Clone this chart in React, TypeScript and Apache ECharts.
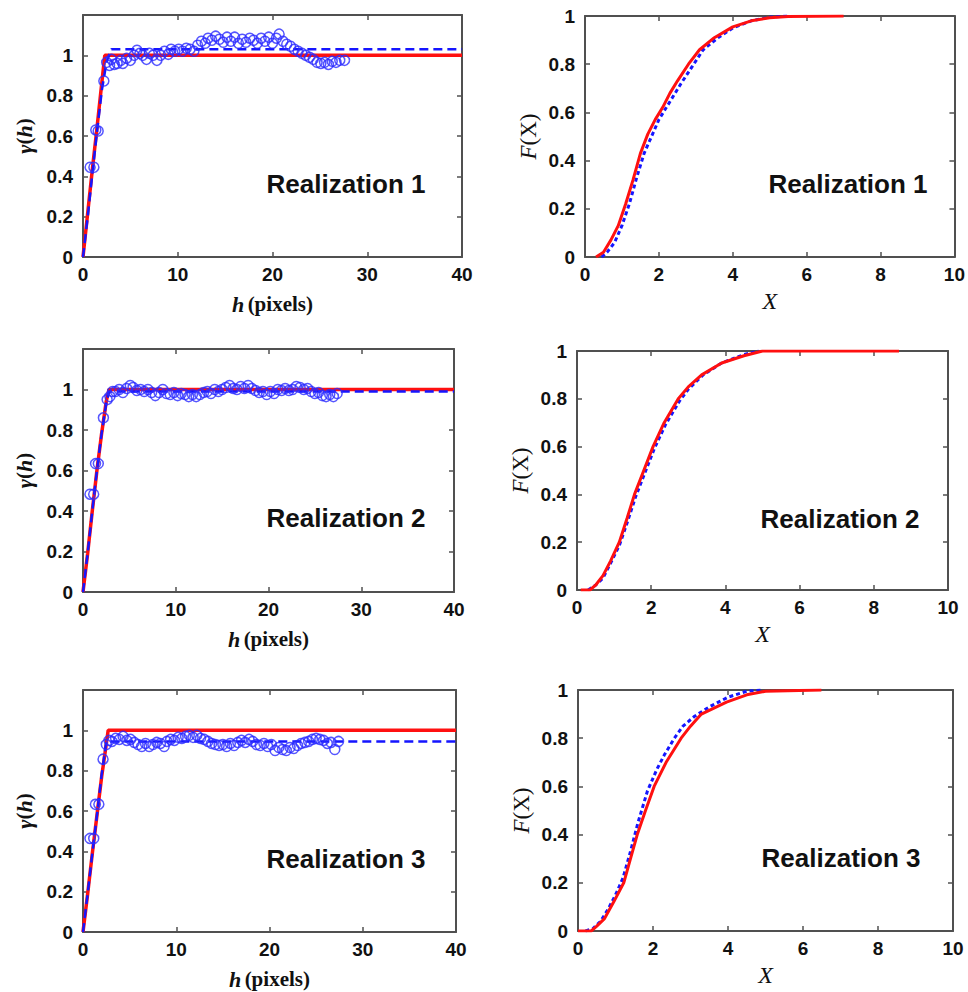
import React, { useEffect, useRef } from 'react';
import * as echarts from 'echarts';

// ---------- Variogram panels (left column) ----------
const v1H = [0.75, 1.15, 1.35, 1.6, 2.2, 2.5, 2.8, 3.0, 3.3, 3.6, 4.0, 4.2, 4.6, 5.0, 5.4, 5.7, 6.0, 6.3, 6.7, 7.0, 7.4, 7.8, 8.2, 8.6, 9.0, 9.3, 9.7, 10.1, 10.5, 10.9, 11.3, 11.7, 12.1, 12.5, 12.9, 13.2, 13.6, 14.0, 14.4, 14.8, 15.2, 15.6, 16.0, 16.4, 16.8, 17.2, 17.6, 18.0, 18.4, 18.8, 19.2, 19.6, 20.0, 20.4, 20.7, 21.1, 21.5, 21.9, 22.3, 22.7, 23.1, 23.5, 23.9, 24.3, 24.7, 25.1, 25.5, 25.9, 26.3, 26.7, 27.1, 27.6];
const v1G = [0.445, 0.445, 0.63, 0.625, 0.873, 0.965, 0.95, 0.98, 0.955, 0.96, 0.975, 0.96, 0.985, 0.975, 1.0, 1.025, 1.01, 1.0, 0.98, 1.01, 1.0, 0.975, 1.0, 1.02, 1.005, 1.03, 1.02, 1.03, 1.02, 1.035, 1.03, 1.02, 1.05, 1.07, 1.06, 1.085, 1.075, 1.095, 1.08, 1.065, 1.09, 1.07, 1.09, 1.06, 1.08, 1.065, 1.085, 1.075, 1.06, 1.085, 1.07, 1.09, 1.06, 1.085, 1.105, 1.07, 1.055, 1.045, 1.03, 1.02, 1.01, 1.0, 0.99, 0.98, 0.965, 0.96, 0.965, 0.955, 0.97, 0.965, 0.975, 0.975];
const m1RedH = [0, 0.5, 1, 1.5, 2, 2.3, 40];
const m1RedG = [0, 0.22, 0.44, 0.65, 0.87, 1.0, 1.0];
const m1BlueH = [0, 0.5, 1, 1.5, 2, 2.5, 3.0, 40];
const m1BlueG = [0, 0.2, 0.42, 0.63, 0.83, 0.97, 1.03, 1.03];

const v2H = [0.75, 1.15, 1.35, 1.65, 2.2, 2.6, 2.9, 3.2, 3.5, 3.9, 4.3, 4.7, 5.1, 5.4, 5.8, 6.2, 6.6, 7.0, 7.4, 7.8, 8.2, 8.6, 9.0, 9.4, 9.8, 10.2, 10.6, 11.0, 11.4, 11.8, 12.2, 12.6, 13.0, 13.4, 13.8, 14.2, 14.6, 15.0, 15.4, 15.8, 16.2, 16.6, 17.0, 17.4, 17.8, 18.2, 18.6, 19.0, 19.4, 19.8, 20.2, 20.6, 21.0, 21.4, 21.8, 22.2, 22.6, 23.0, 23.4, 23.8, 24.2, 24.6, 25.0, 25.4, 25.8, 26.2, 26.6, 27.0, 27.4];
const v2G = [0.483, 0.483, 0.634, 0.634, 0.86, 0.95, 0.965, 0.99, 0.99, 1.0, 0.985, 1.005, 1.02, 1.01, 0.995, 1.0, 0.99, 1.0, 0.985, 0.97, 0.985, 1.0, 0.98, 0.975, 0.985, 0.97, 0.98, 0.975, 0.965, 0.975, 0.965, 0.975, 0.985, 0.99, 0.98, 1.0, 0.99, 1.0, 1.01, 1.02, 1.005, 1.0, 1.015, 1.005, 1.02, 1.005, 0.995, 0.985, 0.99, 0.975, 0.99, 0.98, 1.0, 0.995, 1.005, 0.995, 1.0, 1.015, 1.01, 1.0, 1.005, 0.99, 0.98, 0.985, 0.97, 0.965, 0.975, 0.965, 0.98];
const m2RedH = [0, 0.5, 1, 1.5, 2, 2.5, 2.8, 40];
const m2RedG = [0, 0.19, 0.4, 0.6, 0.78, 0.94, 1.0, 1.0];
const m2BlueH = [0, 0.5, 1, 1.5, 2, 2.5, 2.8, 40];
const m2BlueG = [0, 0.19, 0.4, 0.6, 0.78, 0.93, 0.99, 0.99];

const v3H = [0.75, 1.15, 1.33, 1.7, 2.15, 2.5, 2.8, 3.1, 3.5, 3.9, 4.3, 4.7, 5.1, 5.5, 5.9, 6.3, 6.7, 7.1, 7.5, 7.9, 8.3, 8.7, 9.0, 9.4, 9.8, 10.2, 10.6, 11.0, 11.4, 11.8, 12.2, 12.6, 13.0, 13.4, 13.8, 14.2, 14.6, 15.0, 15.4, 15.8, 16.2, 16.6, 17.0, 17.4, 17.8, 18.2, 18.6, 19.0, 19.4, 19.8, 20.2, 20.6, 21.0, 21.4, 21.8, 22.2, 22.6, 23.0, 23.4, 23.8, 24.2, 24.6, 25.0, 25.4, 25.8, 26.2, 26.6, 27.0, 27.4];
const v3G = [0.464, 0.464, 0.633, 0.633, 0.857, 0.93, 0.95, 0.945, 0.96, 0.955, 0.97, 0.95, 0.955, 0.94, 0.93, 0.92, 0.935, 0.92, 0.93, 0.94, 0.935, 0.92, 0.945, 0.955, 0.95, 0.965, 0.96, 0.97, 0.975, 0.965, 0.975, 0.96, 0.955, 0.945, 0.935, 0.93, 0.925, 0.93, 0.92, 0.935, 0.925, 0.94, 0.95, 0.94, 0.955, 0.945, 0.93, 0.925, 0.935, 0.92, 0.93, 0.9, 0.915, 0.905, 0.9, 0.915, 0.91, 0.925, 0.935, 0.94, 0.945, 0.955, 0.96, 0.955, 0.95, 0.935, 0.94, 0.905, 0.945];
const m3RedH = [0, 0.5, 1, 1.5, 2, 2.4, 2.7, 40];
const m3RedG = [0, 0.19, 0.39, 0.58, 0.77, 0.9, 1.0, 1.0];
const m3BlueH = [0, 0.5, 1, 1.5, 2, 2.5, 40];
const m3BlueG = [0, 0.19, 0.39, 0.58, 0.78, 0.945, 0.945];

// ---------- CDF panels (right column) ----------
const c1RedX = [0.3, 0.5, 0.7, 0.9, 1.1, 1.3, 1.5, 1.7, 1.9, 2.1, 2.3, 2.5, 2.8, 3.1, 3.5, 4.0, 4.5, 5.0, 5.5, 7.0];
const c1RedF = [0, 0.02, 0.07, 0.13, 0.22, 0.32, 0.43, 0.51, 0.57, 0.62, 0.68, 0.73, 0.8, 0.86, 0.91, 0.955, 0.98, 0.993, 0.998, 1.0];
const c1BlueX = [0.45, 0.6, 0.8, 1.0, 1.2, 1.4, 1.6, 1.8, 2.0, 2.2, 2.4, 2.6, 2.9, 3.2, 3.6, 4.0, 4.5, 5.0, 5.5];
const c1BlueF = [0, 0.02, 0.06, 0.13, 0.22, 0.33, 0.43, 0.5, 0.57, 0.62, 0.67, 0.72, 0.79, 0.86, 0.91, 0.95, 0.98, 0.995, 1.0];

const c2RedX = [0.1, 0.35, 0.5, 0.7, 0.9, 1.14, 1.35, 1.55, 1.8, 2.05, 2.35, 2.73, 3.0, 3.36, 3.9, 4.5, 5.0, 8.68];
const c2RedF = [0, 0, 0.02, 0.06, 0.12, 0.2, 0.3, 0.4, 0.5, 0.6, 0.7, 0.8, 0.85, 0.9, 0.95, 0.98, 1.0, 1.0];
const c2BlueX = [0.3, 0.5, 0.7, 0.9, 1.15, 1.37, 1.58, 1.83, 2.08, 2.38, 2.76, 3.0, 3.4, 3.9, 4.5, 4.9];
const c2BlueF = [0, 0.02, 0.05, 0.11, 0.19, 0.29, 0.39, 0.49, 0.59, 0.69, 0.79, 0.84, 0.9, 0.95, 0.985, 1.0];

const c3RedX = [0, 0.35, 0.5, 0.7, 0.95, 1.22, 1.4, 1.58, 1.8, 2.03, 2.35, 2.75, 3.0, 3.29, 3.96, 4.5, 5.0, 6.49];
const c3RedF = [0, 0, 0.02, 0.05, 0.12, 0.2, 0.3, 0.4, 0.5, 0.6, 0.7, 0.8, 0.85, 0.9, 0.95, 0.98, 0.995, 1.0];
const c3BlueX = [0.2, 0.4, 0.6, 0.8, 1.0, 1.2, 1.4, 1.6, 1.85, 2.1, 2.3, 2.57, 2.8, 3.1, 3.5, 4.0, 4.5, 4.9];
const c3BlueF = [0, 0.01, 0.04, 0.09, 0.15, 0.22, 0.33, 0.45, 0.58, 0.67, 0.73, 0.8, 0.85, 0.89, 0.93, 0.97, 0.995, 1.0];

const panelLabels = ['Realization 1', 'Realization 1', 'Realization 2', 'Realization 2', 'Realization 3', 'Realization 3'];

const zip = (a: number[], b: number[]) => a.map((v, i) => [v, b[i]]);

const BOX = '#505050';
const TXT = '#111111';
const RED = '#ff1010';
const BLUE = '#1515ff';

const grids = [
  { left: 83, top: 15, width: 379, height: 242 },
  { left: 585, top: 16, width: 374, height: 241 },
  { left: 83, top: 349, width: 371, height: 243 },
  { left: 577, top: 351, width: 371, height: 239 },
  { left: 83, top: 690, width: 373, height: 242 },
  { left: 578, top: 690, width: 375, height: 241 },
];

export default function App() {
  const ref = useRef<HTMLDivElement>(null);
  useEffect(() => {
    if (!ref.current) return;
    const chart = echarts.init(ref.current, undefined, { renderer: 'svg' });

    const xAxes: any[] = [];
    const yAxes: any[] = [];
    const series: any[] = [];
    const graphics: any[] = [];

    const tickLabel = { fontFamily: 'Liberation Sans', fontWeight: 'bold', fontSize: 19, color: TXT };
    const axLine = { show: true, onZero: false, lineStyle: { color: BOX, width: 2 } };
    const axTick = { show: true, inside: true, length: 5, lineStyle: { color: BOX, width: 1.5 } };

    const variograms = [
      { vh: v1H, vg: v1G, rh: m1RedH, rg: m1RedG, bh: m1BlueH, bg: m1BlueG },
      { vh: v2H, vg: v2G, rh: m2RedH, rg: m2RedG, bh: m2BlueH, bg: m2BlueG },
      { vh: v3H, vg: v3G, rh: m3RedH, rg: m3RedG, bh: m3BlueH, bg: m3BlueG },
    ];
    const cdfs = [
      { rx: c1RedX, rf: c1RedF, bx: c1BlueX, bf: c1BlueF },
      { rx: c2RedX, rf: c2RedF, bx: c2BlueX, bf: c2BlueF },
      { rx: c3RedX, rf: c3RedF, bx: c3BlueX, bf: c3BlueF },
    ];

    grids.forEach((g, p) => {
      const isLeft = p % 2 === 0;
      const row = Math.floor(p / 2);
      const xMax = isLeft ? 40 : 10;
      const xInt = isLeft ? 10 : 2;
      const yMax = isLeft ? 1.2 : 1;
      const xi = xAxes.length;
      const yi = yAxes.length;
      xAxes.push({
        gridIndex: p, type: 'value', position: 'bottom', min: 0, max: xMax, interval: xInt,
        axisLine: axLine, axisTick: axTick, splitLine: { show: false },
        axisLabel: { ...tickLabel, margin: 8 },
        name: isLeft ? '{hi|h} {b|(pixels)}' : '{xi|X}',
        nameLocation: 'middle',
        nameGap: isLeft ? 36 : 32,
        nameTextStyle: {
          rich: {
            hi: { fontFamily: 'Liberation Serif', fontStyle: 'italic', fontWeight: 'bold', fontSize: 22, color: TXT },
            b: { fontFamily: 'Liberation Serif', fontWeight: 'bold', fontSize: 21, color: TXT },
            xi: { fontFamily: 'Liberation Serif', fontStyle: 'italic', fontSize: 24, color: TXT },
          },
        },
      });
      xAxes.push({
        gridIndex: p, type: 'value', position: 'top', min: 0, max: xMax, interval: xInt,
        axisLine: axLine, axisTick: axTick, splitLine: { show: false }, axisLabel: { show: false },
      });
      yAxes.push({
        gridIndex: p, type: 'value', position: 'left', min: 0, max: yMax, interval: 0.2,
        axisLine: axLine, axisTick: axTick, splitLine: { show: false },
        axisLabel: {
          ...tickLabel, margin: 10,
          formatter: (v: number) => (v > 1.0001 ? '' : String(Math.round(v * 10) / 10)),
        },
        name: isLeft ? '{gi|γ}{b|(}{gi|h}{b|)}' : '{fi|F}{r|(X)}',
        nameLocation: 'middle',
        nameGap: isLeft ? 48 : 45,
        nameRotate: 90,
        nameTextStyle: {
          rich: {
            gi: { fontFamily: 'Liberation Serif', fontStyle: 'italic', fontWeight: 'bold', fontSize: 22, color: TXT },
            b: { fontFamily: 'Liberation Serif', fontWeight: 'bold', fontSize: 21, color: TXT },
            fi: { fontFamily: 'Liberation Serif', fontStyle: 'italic', fontSize: 23, color: TXT },
            r: { fontFamily: 'Liberation Serif', fontSize: 23, color: TXT },
          },
        },
      });
      yAxes.push({
        gridIndex: p, type: 'value', position: 'right', min: 0, max: yMax, interval: 0.2,
        axisLine: axLine, axisTick: axTick, splitLine: { show: false }, axisLabel: { show: false },
      });

      if (isLeft) {
        const d = variograms[row];
        series.push({
          type: 'line', xAxisIndex: xi, yAxisIndex: yi, data: zip(d.rh, d.rg),
          symbol: 'none', lineStyle: { color: RED, width: 3.5 }, z: 2,
        });
        series.push({
          type: 'line', xAxisIndex: xi, yAxisIndex: yi, data: zip(d.bh, d.bg),
          symbol: 'none', lineStyle: { color: BLUE, width: 2.5, type: [9, 5] }, z: 3,
        });
        series.push({
          type: 'scatter', xAxisIndex: xi, yAxisIndex: yi, data: zip(d.vh, d.vg),
          symbol: 'circle', symbolSize: 10,
          itemStyle: { color: 'rgba(0,0,0,0)', borderColor: '#2a2aff', borderWidth: 1.5 }, z: 4,
        });
      } else {
        const d = cdfs[row];
        series.push({
          type: 'line', xAxisIndex: xi, yAxisIndex: yi, data: zip(d.bx, d.bf),
          symbol: 'none', lineStyle: { color: BLUE, width: 3, type: [4, 3] }, z: 2,
        });
        series.push({
          type: 'line', xAxisIndex: xi, yAxisIndex: yi, data: zip(d.rx, d.rf),
          symbol: 'none', lineStyle: { color: RED, width: 3 }, z: 3,
        });
      }

      graphics.push({
        type: 'text',
        x: g.left + (isLeft ? 263 : 263),
        y: g.top + (isLeft ? 169 : 168),
        style: {
          text: panelLabels[p],
          fontFamily: 'Liberation Sans', fontWeight: 'bold', fontSize: 26,
          fill: TXT, textAlign: 'center', textVerticalAlign: 'middle',
        },
      });
    });

    chart.setOption({
      animation: false,
      backgroundColor: '#ffffff',
      grid: grids.map((g) => ({ ...g, containLabel: false })),
      xAxis: xAxes,
      yAxis: yAxes,
      series,
      graphic: graphics,
    });
    return () => chart.dispose();
  }, []);

  return (
    <div
      ref={ref}
      style={{ position: 'fixed', left: 0, top: 0, width: 968, height: 992, background: '#fff' }}
    />
  );
}
